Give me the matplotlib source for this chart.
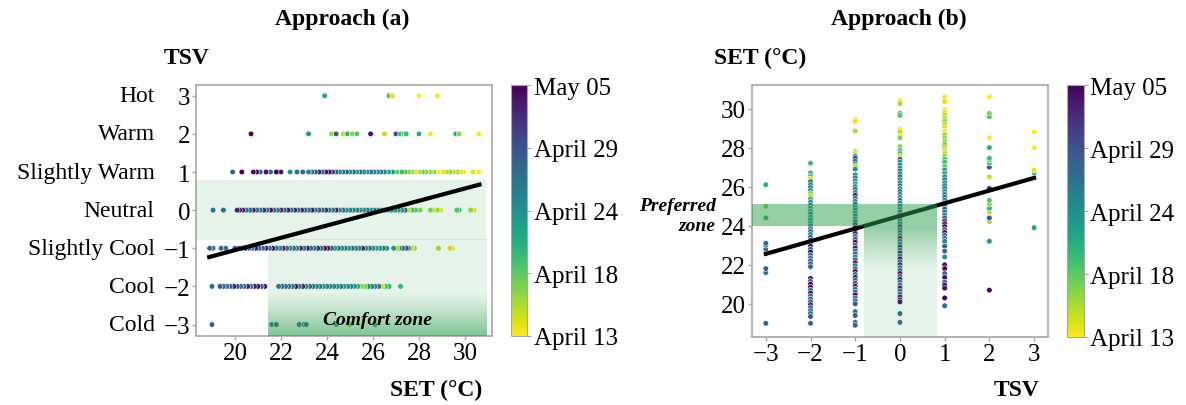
import numpy as np
import matplotlib
matplotlib.use("Agg")
import matplotlib.pyplot as plt
from matplotlib.colors import Normalize, to_rgb
from matplotlib.cm import ScalarMappable

plt.rcParams["font.family"] = ["Liberation Serif", "DejaVu Serif"]

# SET (°C) and day index (0 = April 13 ... 22 = May 05) for each TSV vote
set_p3 = [23.9, 26.7, 26.85, 28.0, 28.8]
day_p3 = [9, 7, 1, 0, 0]

set_p2 = [20.7, 23.2, 24.2, 24.4, 24.7, 24.9, 25.1, 25.3, 25.9, 26.5, 27.0, 27.2,
          27.35, 27.45, 28.0, 28.5, 29.6, 29.75, 30.6]
day_p2 = [22, 10, 3, 16, 2, 8, 4, 6, 21, 2, 17, 7, 5, 7, 8, 0, 8, 4, 0]

set_p1 = [30.6, 30.35, 29.95, 29.8, 29.65, 29.5, 29.35, 29.2, 29.05, 28.85, 28.65, 28.5,
          28.3, 28.15, 28.0, 27.85, 27.7, 27.55, 27.4, 27.25, 27.05, 26.85, 26.7, 26.5,
          26.35, 26.2, 26.05, 25.9, 25.75, 25.6, 25.45, 25.3, 25.15, 25.0, 24.85, 24.7,
          24.55, 24.4, 24.25, 24.1, 23.95, 23.8, 23.65, 23.5, 23.35, 23.2, 22.95, 22.7,
          22.4, 22.0, 21.8, 21.55, 21.35, 21.1, 20.95, 20.8, 20.3, 19.9]
day_p1 = [0, 1, 0, 1, 3, 2, 4, 3, 1, 0, 4, 3,
          4, 5, 3, 1, 3, 4, 6, 7, 5, 11, 8, 12,
          14, 11, 12, 15, 11, 12, 14, 11, 15, 12, 16, 14,
          12, 15, 18, 21, 22, 15, 21, 16, 14, 12, 15, 14,
          11, 21, 22, 15, 21, 16, 22, 21, 22, 15]

set_0 = [30.4, 30.25, 29.75, 29.65, 28.95, 28.8, 28.6, 28.5, 28.05, 27.85, 27.7, 27.55,
         27.4, 27.25, 27.1, 26.95, 26.8, 26.65, 26.5, 26.35, 26.2, 26.05, 25.9, 25.75,
         25.6, 25.45, 25.3, 25.15, 25.0, 24.85, 24.7, 24.55, 24.4, 24.25, 24.1, 23.95,
         23.8, 23.65, 23.5, 23.35, 23.2, 23.05, 22.9, 22.75, 22.6, 22.45, 22.3, 22.15,
         22.0, 21.85, 21.7, 21.55, 21.4, 21.25, 21.1, 20.95, 20.8, 20.65, 20.5, 20.35,
         20.2, 20.1, 19.5, 19.05]
day_0 = [0, 3, 7, 6, 0, 3, 1, 4, 4, 6, 7, 1,
         15, 11, 12, 11, 14, 12, 15, 11, 12, 14, 11, 15,
         12, 11, 14, 12, 15, 11, 16, 12, 21, 15, 14, 21,
         15, 18, 14, 22, 15, 16, 21, 14, 21, 15, 22, 15,
         21, 14, 16, 22, 15, 21, 14, 15, 21, 16, 14, 21,
         22, 21, 15, 14]

set_m1 = [29.45, 29.35, 28.85, 27.8, 27.7, 27.55, 27.45, 27.3, 27.15, 27.05, 26.9, 26.6,
          26.45, 26.3, 26.15, 26.0, 25.85, 25.7, 25.55, 25.4, 25.25, 25.1, 24.95, 24.8,
          24.65, 24.5, 24.35, 24.2, 24.05, 23.9, 23.75, 23.6, 23.45, 23.3, 23.15, 23.0,
          22.85, 22.7, 22.55, 22.4, 22.25, 22.1, 21.95, 21.8, 21.65, 21.5, 21.35, 21.2,
          21.05, 20.9, 20.75, 20.6, 20.45, 20.3, 20.15, 20.0, 19.6, 19.4, 19.05, 18.9]
day_m1 = [0, 1, 3, 4, 1, 11, 18, 15, 12, 2, 11, 12,
          14, 11, 9, 12, 15, 11, 21, 14, 12, 15, 11, 14,
          12, 15, 11, 16, 21, 22, 15, 21, 14, 16, 22, 15,
          21, 14, 15, 12, 16, 21, 14, 15, 22, 14, 21, 15,
          16, 21, 14, 15, 22, 14, 15, 16, 14, 15, 14, 15]

set_m2 = [27.2, 26.7, 26.55, 26.4, 26.25, 26.1, 25.95, 25.8, 25.65, 25.5, 25.35, 25.2,
          25.05, 24.9, 24.75, 24.6, 24.45, 24.3, 24.15, 24.0, 23.85, 23.7, 23.55, 23.4,
          23.25, 23.1, 22.95, 22.8, 22.65, 22.5, 22.35, 22.2, 22.05, 21.9, 21.3, 21.15,
          21.0, 20.85, 20.7, 20.55, 20.4, 20.25, 20.1, 19.95, 19.8, 19.65, 19.5, 19.35, 19.0]
day_m2 = [7, 8, 6, 1, 15, 12, 14, 11, 4, 3, 8, 11,
          14, 12, 9, 15, 11, 14, 12, 15, 11, 14, 12, 15,
          16, 12, 21, 14, 22, 15, 14, 15, 16, 14, 21, 15,
          22, 21, 14, 21, 15, 14, 16, 21, 15, 14, 15, 16, 15]

set_m3 = [19.0, 21.6, 21.8, 22.8, 23.0, 23.1, 24.4, 25.0, 26.1]
day_m3 = [15, 14, 15, 15, 14, 15, 8, 4, 8]

tsv_names = ["Cold", "Cool", "Slightly Cool", "Neutral", "Slightly Warm", "Warm", "Hot"]
tsv_levels = [-3, -2, -1, 0, 1, 2, 3]
date_labels = ["April 13", "April 18", "April 24", "April 29", "May 05"]

# regression lines
fit_a = (0.1617, -4.283)   # TSV = a*SET + b
fit_a_range = (18.88, 30.63)
fit_b = (0.648, 24.5)      # SET = a*TSV + b
fit_b_range = (-3.0, 3.0)

groups = [(3, set_p3, day_p3), (2, set_p2, day_p2), (1, set_p1, day_p1), (0, set_0, day_0),
          (-1, set_m1, day_m1), (-2, set_m2, day_m2), (-3, set_m3, day_m3)]
tsv = np.concatenate([[t] * len(s) for t, s, d in groups])
set_vals = np.concatenate([s for t, s, d in groups])
days = np.concatenate([d for t, s, d in groups])

green = np.array(to_rgb("#2ea050"))
spine_col = "#a8a8a8"
norm = Normalize(0, 22)
cmap = "viridis_r"


def gradient(alpha_col):
    img = np.zeros((len(alpha_col), 1, 4))
    img[:, 0, :3] = green
    img[:, 0, 3] = alpha_col
    return img


def style(ax):
    for sp in ax.spines.values():
        sp.set_color(spine_col)
        sp.set_linewidth(1.2)
    ax.tick_params(labelsize=18, length=3, width=1, color=spine_col, pad=1.5)


fig = plt.figure(figsize=(11.86, 4.06), dpi=100)

# ---------- Approach (a)
ax1 = fig.add_axes([0.1655, 0.170, 0.2492, 0.618])
ax1.scatter(set_vals, tsv, c=days, cmap=cmap, norm=norm, s=16,
            edgecolors="white", linewidths=0.4, zorder=2)
ax1.fill_between([18.32, 30.91], -0.78, 0.78, color=green, alpha=0.12, lw=0, zorder=3)
yy = np.linspace(-0.78, -3.3, 200)
alpha_a = 0.12 + 0.5 * np.clip((-2.15 - yy) / 1.15, 0, 1) ** 1.2
ax1.imshow(gradient(alpha_a), extent=[21.43, 30.91, -3.3, -0.78], aspect="auto",
           origin="upper", zorder=3)
xs = np.array(fit_a_range)
ax1.plot(xs, fit_a[0] * xs + fit_a[1], color="black", lw=3, zorder=4)
ax1.text(26.2, -2.88, "Comfort zone", fontsize=14, fontweight="bold", style="italic",
         ha="center", va="center", zorder=5)
ax1.set_xlim(18.32, 31.17)
ax1.set_ylim(-3.3, 3.28)
ax1.set_xticks([20, 22, 24, 26, 28, 30])
ax1.set_yticks(tsv_levels)
style(ax1)
for v, name in zip(tsv_levels, tsv_names):
    ax1.annotate(name, xy=(0, v), xycoords=("axes fraction", "data"), xytext=(-30, 0),
                 textcoords="offset points", ha="right", va="center", fontsize=17)

cax1 = fig.add_axes([0.4309, 0.170, 0.0138, 0.618])
cb1 = fig.colorbar(ScalarMappable(norm=norm, cmap=cmap), cax=cax1)
cb1.set_ticks(np.linspace(0, 22, 5), labels=date_labels)
cb1.outline.set_edgecolor(spine_col)
cax1.tick_params(labelsize=18, length=3, color=spine_col, pad=1.5)

fig.text(0.2888, 0.953, "Approach (a)", fontsize=17, fontweight="bold", ha="center", va="center")
fig.text(0.1577, 0.857, "TSV", fontsize=17, fontweight="bold", ha="center", va="center")
fig.text(0.3676, 0.0394, "SET (°C)", fontsize=17, fontweight="bold", ha="center", va="center")

# ---------- Approach (b)
ax2 = fig.add_axes([0.634, 0.1675, 0.2496, 0.6205])
ax2.scatter(tsv, set_vals, c=days, cmap=cmap, norm=norm, s=16,
            edgecolors="white", linewidths=0.4, zorder=2)
xs = np.array(fit_b_range)
ax2.plot(xs, fit_b[0] * xs + fit_b[1], color="black", lw=3, zorder=3)
ax2.fill_between([-3.31, 0.82], 23.97, 25.13, color=green, alpha=0.5, lw=0, zorder=4)
yy = np.linspace(23.97, 18.3, 200)
alpha_b = 0.12 + 0.4 * np.clip((yy - 21.6) / (23.97 - 21.6), 0, 1) ** 1.3
ax2.imshow(gradient(alpha_b), extent=[-0.8, 0.82, 18.3, 23.97], aspect="auto",
           origin="upper", zorder=4)
ax2.set_xlim(-3.31, 3.31)
ax2.set_ylim(18.3, 31.2)
ax2.set_xticks(tsv_levels)
ax2.set_yticks([20, 22, 24, 26, 28, 30])
style(ax2)

cax2 = fig.add_axes([0.8994, 0.1675, 0.0142, 0.6205])
cb2 = fig.colorbar(ScalarMappable(norm=norm, cmap=cmap), cax=cax2)
cb2.set_ticks(np.linspace(0, 22, 5), labels=date_labels)
cb2.outline.set_edgecolor(spine_col)
cax2.tick_params(labelsize=18, length=3, color=spine_col, pad=1.5)

fig.text(0.758, 0.953, "Approach (b)", fontsize=17, fontweight="bold", ha="center", va="center")
fig.text(0.6408, 0.855, "SET (°C)", fontsize=17, fontweight="bold", ha="center", va="center")
fig.text(0.857, 0.0394, "TSV", fontsize=17, fontweight="bold", ha="center", va="center")
fig.text(0.6034, 0.4667, "Preferred\nzone", fontsize=14, fontweight="bold", style="italic",
         ha="right", va="center", multialignment="right", linespacing=1.25)

fig.savefig("out.png", dpi=100)
